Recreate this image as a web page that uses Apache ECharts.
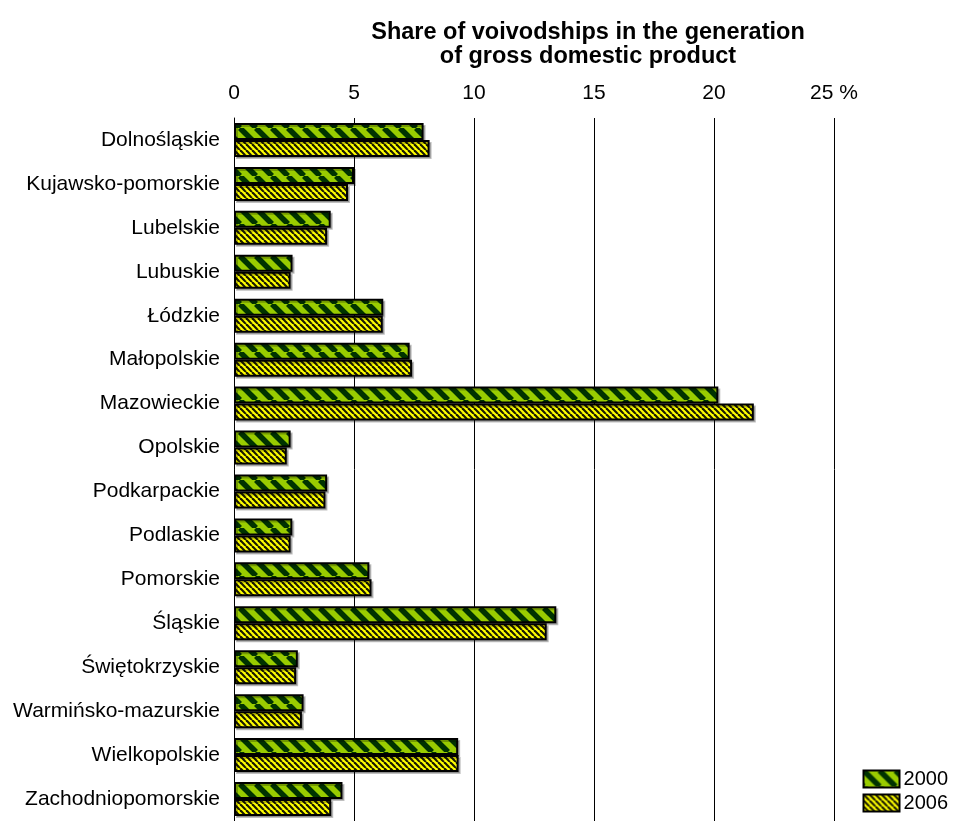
<!DOCTYPE html>
<html>
<head>
<meta charset="utf-8">
<script src="https://cdn.jsdelivr.net/npm/echarts@6/dist/echarts.min.js"></script>
<style>
  html, body { margin: 0; padding: 0; background: #fff; }
  #chart { width: 954px; height: 821px; }
</style>
</head>
<body>
<div id="chart"></div>
<script>
// voivodships, top to bottom
var regions = ['Dolnośląskie', 'Kujawsko-pomorskie', 'Lubelskie', 'Lubuskie', 'Łódzkie', 'Małopolskie',
  'Mazowieckie', 'Opolskie', 'Podkarpackie', 'Podlaskie', 'Pomorskie', 'Śląskie', 'Świętokrzyskie',
  'Warmińsko-mazurskie', 'Wielkopolskie', 'Zachodniopomorskie']
// share in GDP, %
var share2000 = [7.9, 5.0, 4.03, 2.44, 6.22, 7.32, 20.18, 2.36, 3.88, 2.43, 5.64, 13.43, 2.66, 2.9, 9.34, 4.52]
var share2006 = [8.15, 4.75, 3.88, 2.36, 6.2, 7.42, 21.66, 2.2, 3.81, 2.36, 5.73, 13.03, 2.59, 2.83, 9.36, 4.05]
var xTicks = [0, 5, 10, 15, 20, 25]

// diagonal stripe tiles ("\" direction)
function stripes(size, bg, fg, lw) {
  var c = document.createElement('canvas')
  c.width = size
  c.height = size
  var ctx = c.getContext('2d')
  ctx.fillStyle = bg
  ctx.fillRect(0, 0, size, size)
  ctx.strokeStyle = fg
  ctx.lineWidth = lw
  for (var k = -1; k <= 1; k++) {
    ctx.beginPath()
    ctx.moveTo(k * size, 0)
    ctx.lineTo(k * size + size, size)
    ctx.stroke()
  }
  return c
}

var green = stripes(16, '#99cc00', '#003300', 5.5)
var yellow = stripes(6, '#ffff00', '#1a1a00', 2.2)

var myChart = echarts.init(document.getElementById('chart'))

var barStyle = function (img) {
  return {
    color: { image: img, repeat: 'repeat' },
    borderColor: '#000',
    borderWidth: 2,
    shadowColor: 'rgba(0, 0, 0, 0.25)',
    shadowOffsetX: 2,
    shadowOffsetY: 2,
    shadowBlur: 0
  }
}

var option = {
  animation: false,
  textStyle: { fontFamily: 'Liberation Sans, Arial, sans-serif' },
  title: {
    text: 'Share of voivodships in the generation\nof gross domestic product',
    left: 583,
    top: 16,
    textAlign: 'center',
    textStyle: {
      fontSize: 23.5,
      fontWeight: 'bold',
      color: '#000',
      lineHeight: 24,
      fontFamily: 'Liberation Sans, Arial, sans-serif'
    }
  },
  legend: {
    orient: 'vertical',
    right: 1,
    bottom: 3,
    itemWidth: 36,
    itemHeight: 17,
    itemGap: 4,
    icon: 'rect',
    textStyle: { fontSize: 20, color: '#000', padding: [0, 0, 0, -1] },
    data: ['2000', '2006']
  },
  grid: {
    left: 234,
    right: 120,
    top: 118,
    bottom: -1,
    containLabel: false
  },
  xAxis: {
    type: 'value',
    position: 'top',
    min: 0,
    max: 25,
    interval: 5,
    axisLine: { show: false },
    axisTick: { show: false },
    axisLabel: {
      fontSize: 21,
      color: '#000',
      margin: 14,
      formatter: function (v) {
        return xTicks.indexOf(v) === xTicks.length - 1 ? v + ' %' : String(v)
      }
    },
    splitLine: { show: true, lineStyle: { color: '#000', width: 1 } }
  },
  yAxis: {
    type: 'category',
    inverse: true,
    data: regions,
    axisLine: { show: true, lineStyle: { color: '#000', width: 1 } },
    axisTick: { show: false },
    axisLabel: { fontSize: 21, color: '#000', margin: 14 }
  },
  series: [
    {
      name: '2000',
      type: 'bar',
      data: share2000,
      barWidth: 17,
      barGap: '0%',
      itemStyle: barStyle(green)
    },
    {
      name: '2006',
      type: 'bar',
      data: share2006,
      barWidth: 17,
      barGap: '0%',
      itemStyle: barStyle(yellow)
    }
  ]
}

myChart.setOption(option)
</script>
</body>
</html>
